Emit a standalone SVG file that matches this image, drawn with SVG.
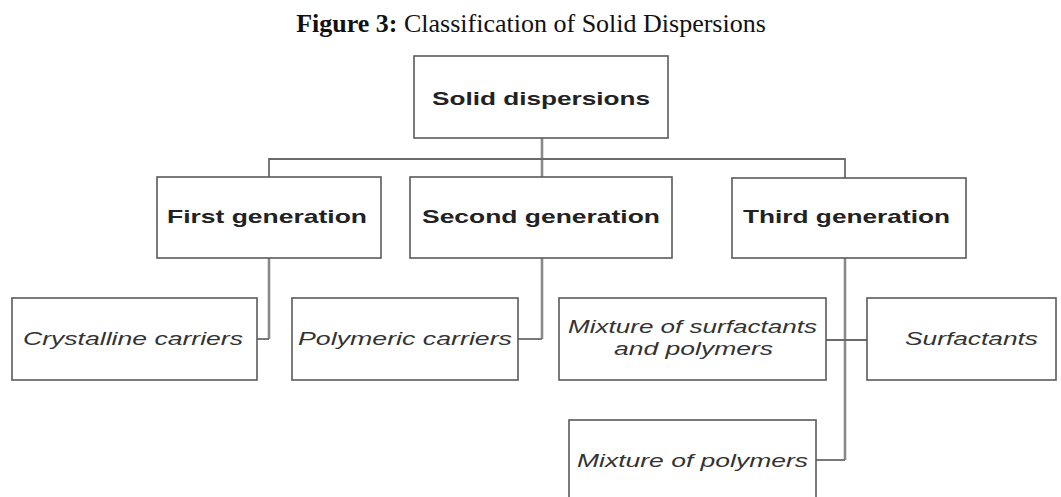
<svg xmlns="http://www.w3.org/2000/svg" width="1061" height="497" viewBox="0 0 1061 497">
<style>
.box{fill:#ffffff;stroke:#5a5a5a;stroke-width:1.6}
.conn{fill:none;stroke:#6a6a6a;stroke-width:1.8}
.vconn{fill:none;stroke:#8a8a8a;stroke-width:2.6}
.b{font-family:"Liberation Sans",Arial,sans-serif;font-weight:bold;font-size:19px;fill:#222;text-anchor:middle}
.i{font-family:"Liberation Sans",Arial,sans-serif;font-style:italic;font-size:18px;fill:#333;text-anchor:middle}
.title{font-family:"Liberation Serif","Times New Roman",serif;font-size:26px;fill:#111;text-anchor:middle}
</style>
<rect width="1061" height="497" fill="#ffffff"/>
<text class="title" x="531" y="32"><tspan font-weight="bold">Figure 3:</tspan> Classification of Solid Dispersions</text>
<g id="connectors">
<path class="vconn" d="M542 138 V177"/>
<path class="conn" d="M269 177 V159 H845 V178"/>
<path class="vconn" d="M269 258 V339"/>
<path class="conn" d="M269 339 H257"/>
<path class="vconn" d="M542 258 V339"/>
<path class="conn" d="M542 339 H518"/>
<path class="vconn" d="M845 258 V460"/>
<path class="conn" d="M845 460 H816"/>
<path class="conn" d="M826 340 H867"/>
</g>
<g id="root"><rect class="box" x="414" y="56" width="254" height="82"/><text class="b" x="541" y="105" font-size="20" textLength="218" lengthAdjust="spacingAndGlyphs">Solid dispersions</text></g>
<g id="first"><rect class="box" x="157" y="177" width="224" height="81"/><text class="b" x="267" y="223" textLength="200" lengthAdjust="spacingAndGlyphs">First generation</text></g>
<g id="second"><rect class="box" x="410" y="177" width="262" height="81"/><text class="b" x="541" y="223" textLength="238" lengthAdjust="spacingAndGlyphs">Second generation</text></g>
<g id="third"><rect class="box" x="732" y="178" width="234" height="80"/><text class="b" x="846.5" y="223" textLength="207" lengthAdjust="spacingAndGlyphs">Third generation</text></g>
<g id="crystalline"><rect class="box" x="12" y="298" width="245" height="82"/><text class="i" x="133" y="345" textLength="220" lengthAdjust="spacingAndGlyphs">Crystalline carriers</text></g>
<g id="polymeric"><rect class="box" x="292" y="298" width="226" height="82"/><text class="i" x="405" y="345" textLength="214" lengthAdjust="spacingAndGlyphs">Polymeric carriers</text></g>
<g id="mixsurf"><rect class="box" x="559" y="298" width="267" height="82"/><text class="i" x="692.5" y="333" textLength="249" lengthAdjust="spacingAndGlyphs">Mixture of surfactants</text><text class="i" x="693.5" y="355" textLength="159" lengthAdjust="spacingAndGlyphs">and polymers</text></g>
<g id="surfactants"><rect class="box" x="867" y="298" width="189" height="82"/><text class="i" x="971.5" y="345" textLength="133" lengthAdjust="spacingAndGlyphs">Surfactants</text></g>
<g id="mixpoly"><rect class="box" x="569" y="420" width="247" height="80"/><text class="i" x="692.5" y="467" textLength="231" lengthAdjust="spacingAndGlyphs">Mixture of polymers</text></g>
</svg>
